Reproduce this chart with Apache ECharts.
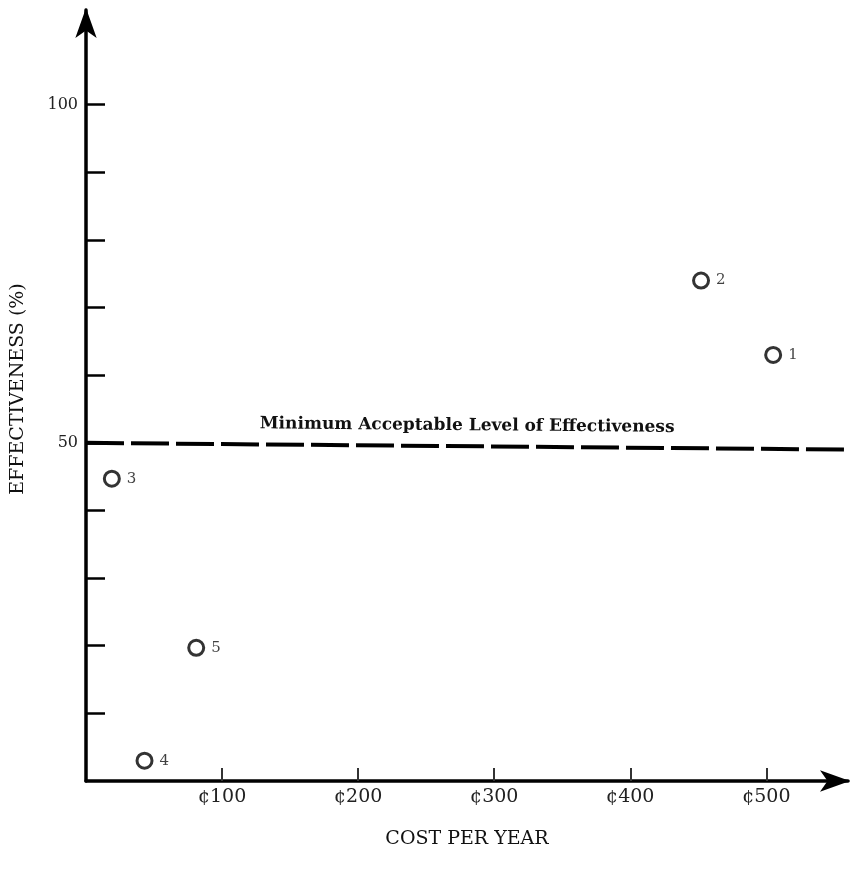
<!DOCTYPE html>
<html>
<head>
<meta charset="utf-8">
<script src="https://cdn.jsdelivr.net/npm/echarts@6/dist/echarts.min.js"></script>
<style>
  html, body { margin: 0; padding: 0; background: #fff; }
  #chart { width: 855px; height: 870px; }
</style>
</head>
<body>
<div id="chart"></div>
<script>
// Alternatives: cost per year vs. effectiveness
const optionIds = ['1', '2', '3', '4', '5'];
const costPerYear = [505, 452, 19, 43, 81];
const effectiveness = [63, 74, 44.7, 3, 19.7];

const xTickValues = [100, 200, 300, 400, 500];
const yTickValues = [10, 20, 30, 40, 50, 60, 70, 80, 90, 100];
const yLabelValues = [50, 100];

const minimumLevel = 50;
const minimumLevelEnd = 49;
const minimumLabel = 'Minimum Acceptable Level of Effectiveness';

const xName = 'COST PER YEAR';
const yName = 'EFFECTIVENESS (%)';

const serif = '"DejaVu Serif", "Liberation Serif", serif';
const ink = '#000';

const points = costPerYear.map((c, i) => ({ value: [c, effectiveness[i]], name: optionIds[i] }));

const chart = echarts.init(document.getElementById('chart'));
chart.setOption({
  animation: false,
  backgroundColor: '#fff',
  grid: { left: 86, right: 7, top: 10, bottom: 89 },
  xAxis: {
    type: 'value',
    min: 0,
    max: 560,
    splitLine: { show: false },
    axisLine: {
      show: true,
      symbol: ['none', 'arrow'],
      symbolSize: [16, 30],
      symbolOffset: [0, 2],
      lineStyle: { color: ink, width: 3.5 }
    },
    axisTick: {
      show: true,
      inside: true,
      length: 13,
      customValues: xTickValues,
      lineStyle: { color: '#333', width: 2 }
    },
    axisLabel: {
      customValues: xTickValues,
      formatter: v => '\u00A2' + v,
      margin: 7,
      fontFamily: serif,
      fontSize: 19,
      color: '#222'
    },
    name: xName,
    nameLocation: 'middle',
    nameGap: 49,
    nameTextStyle: { fontFamily: serif, fontSize: 19, color: '#111' }
  },
  yAxis: {
    type: 'value',
    min: 0,
    max: 114,
    splitLine: { show: false },
    axisLine: {
      show: true,
      symbol: ['none', 'arrow'],
      symbolSize: [16, 30],
      symbolOffset: [0, 2],
      lineStyle: { color: ink, width: 3.5 }
    },
    axisTick: {
      show: true,
      inside: true,
      length: 19,
      customValues: yTickValues,
      lineStyle: { color: ink, width: 2.5 }
    },
    axisLabel: {
      customValues: yLabelValues,
      margin: 8,
      fontFamily: serif,
      fontSize: 16,
      color: '#222'
    }
  },
  graphic: [{
    type: 'text',
    x: 18,
    y: 389,
    rotation: Math.PI / 2,
    style: {
      text: yName,
      fontFamily: serif,
      fontSize: 19,
      fill: '#111',
      align: 'center',
      verticalAlign: 'middle'
    }
  }],
  series: [{
    type: 'scatter',
    data: points,
    symbol: 'circle',
    symbolSize: 15,
    itemStyle: { color: '#fff', borderColor: ink, borderWidth: 3 },
    label: {
      show: true,
      position: 'right',
      distance: 6,
      formatter: p => p.name,
      fontFamily: serif,
      fontSize: 15,
      color: '#111'
    },
    markLine: {
      silent: true,
      symbol: ['none', 'none'],
      lineStyle: { color: ink, width: 4, type: [38, 7] },
      label: {
        show: true,
        position: 'middle',
        formatter: minimumLabel,
        distance: 12,
        fontFamily: serif,
        fontSize: 17,
        fontWeight: 'bold',
        color: '#111'
      },
      data: [[
        { coord: [0, minimumLevel] },
        { coord: [560, minimumLevelEnd] }
      ]]
    }
  }]
});
</script>
</body>
</html>
